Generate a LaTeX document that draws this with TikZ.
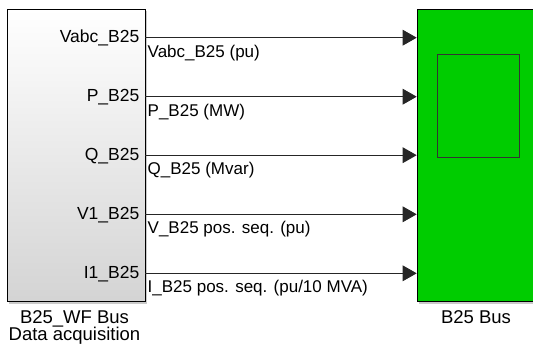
\documentclass[tikz,border=0pt]{standalone}
\usepackage{fontspec}
\setmainfont{Liberation Sans}
\usetikzlibrary{arrows.meta,shadows}
\begin{document}
\begin{tikzpicture}[x=1pt,y=-1pt,
  portlabel/.style={anchor=base east,inner sep=0pt,font=\fontsize{17.5}{20}\selectfont},
  siglabel/.style={anchor=base west,inner sep=0pt,font=\fontsize{17}{20}\selectfont},
  blockname/.style={inner sep=0pt,align=center,font=\fontsize{18.5}{17.4}\selectfont},
  sig/.style={draw=black!85,line width=0.9pt,-{Triangle[length=14pt,width=15.7pt]}},
  blockshadow/.style={drop shadow={shadow xshift=1.5pt,shadow yshift=-2pt,opacity=0.35,fill=black!60}}
]
\useasboundingbox (0,0) rectangle (533,345);
% left block
\node[draw=black,line width=0.8pt,top color=white,bottom color=black!17,
      blockshadow,minimum width=137.7pt,minimum height=292.4pt,inner sep=0pt]
      (wf) at (76.3,155.5) {};
% green block
\node[draw=black,line width=0.8pt,fill={rgb,255:red,0;green,204;blue,0},
      blockshadow,minimum width=140pt,minimum height=292.4pt,inner sep=0pt,anchor=west]
      (bus) at (416.7,155.5) {};
\node[draw=black!80,line width=0.8pt,minimum width=82pt,minimum height=103pt,inner sep=0pt]
      (scope) at (478,105.5) {};
% ports
\foreach \i/\y in {1/37.7,2/96.7,3/155.2,4/214.3,5/273.3}{
  \coordinate (o\i) at (145,\y);
  \coordinate (in\i) at (416.7,\y);
}
\node[portlabel] (p1) at (139.5,42.3) {Vabc\_B25};
\node[portlabel] (p2) at (139.5,101.7) {P\_B25};
\node[portlabel] (p3) at (139.5,160.5) {Q\_B25};
\node[portlabel] (p4) at (139.5,219.3) {V1\_B25};
\node[portlabel] (p5) at (139.5,278.3) {I1\_B25};
\foreach \i in {1,...,5}{\draw[sig] (o\i) -- (in\i);}
\node[siglabel] (s1) at (147.5,57.3) {Vabc\_B25 (pu)};
\node[siglabel] (s2) at (147.5,116.3) {P\_B25 (MW)};
\node[siglabel] (s3) at (147.5,174.8) {Q\_B25 (Mvar)};
\node[siglabel] (s4) at (147.5,233.9) {V\_B25 pos. seq. (pu)};
\node[siglabel] (s5) at (147.5,292.9) {I\_B25 pos. seq. (pu/10 MVA)};
% names
\node[blockname,anchor=base] (n1) at (74.5,340.7) {B25\_WF Bus\\Data acquisition};
\node[blockname,anchor=base] (n2) at (476,323.3) {B25 Bus};
\end{tikzpicture}
\end{document}
